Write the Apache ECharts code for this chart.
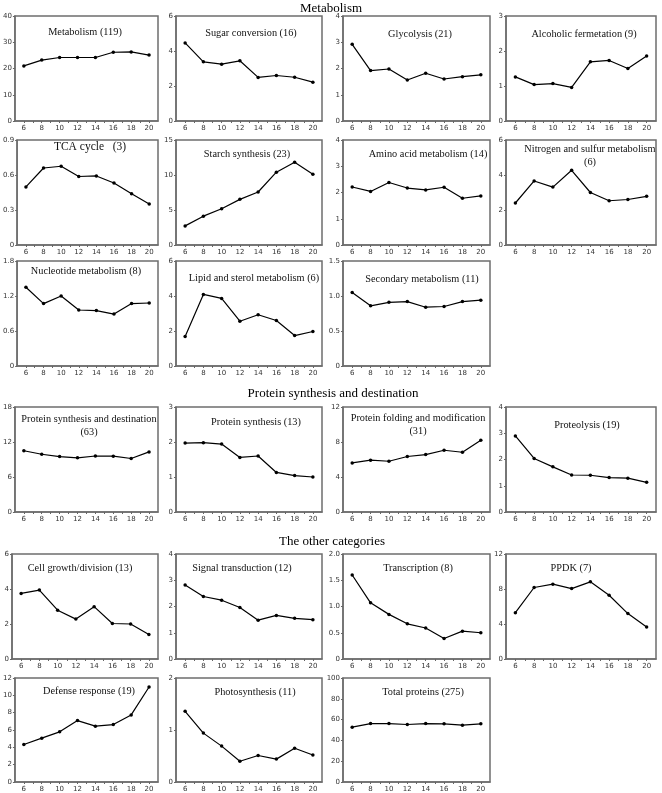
<!DOCTYPE html>
<html>
<head>
<meta charset="utf-8">
<script src="https://cdn.jsdelivr.net/npm/echarts@6/dist/echarts.min.js"></script>
<style>
html,body{margin:0;padding:0;background:#fff;}
#chart{width:662px;height:793px;}
</style>
</head>
<body>
<div id="chart"></div>
<script>
// ---- data ----
const stages = [6, 8, 10, 12, 14, 16, 18, 20];
const xTickLabels = ['6', '8', '10', '12', '14', '16', '18', '20'];

const metabolism = [21.0, 23.2, 24.2, 24.2, 24.2, 26.2, 26.3, 25.1];
const sugarConversion = [4.46, 3.38, 3.25, 3.44, 2.49, 2.60, 2.50, 2.22];
const glycolysis = [2.92, 1.92, 1.98, 1.56, 1.82, 1.60, 1.69, 1.76];
const alcoholicFermentation = [1.26, 1.04, 1.07, 0.96, 1.69, 1.73, 1.50, 1.86];
const tcaCycle = [0.498, 0.660, 0.675, 0.587, 0.592, 0.532, 0.440, 0.351];
const starchSynthesis = [2.73, 4.12, 5.17, 6.52, 7.57, 10.4, 11.83, 10.1];
const aminoAcid = [2.21, 2.04, 2.38, 2.17, 2.10, 2.20, 1.78, 1.87];
const nitrogenSulfur = [2.4, 3.66, 3.31, 4.27, 3.00, 2.53, 2.60, 2.78];
const nucleotide = [1.35, 1.07, 1.20, 0.96, 0.95, 0.89, 1.07, 1.08];
const lipidSterol = [1.68, 4.09, 3.86, 2.56, 2.93, 2.60, 1.74, 1.97];
const secondaryMetabolism = [1.05, 0.86, 0.91, 0.92, 0.84, 0.85, 0.92, 0.94];
const proteinSynthDest = [10.5, 9.9, 9.5, 9.28, 9.6, 9.57, 9.17, 10.3];
const proteinSynthesis = [1.97, 1.98, 1.94, 1.56, 1.60, 1.13, 1.04, 1.00];
const proteinFolding = [5.61, 5.92, 5.80, 6.34, 6.56, 7.06, 6.83, 8.20];
const proteolysis = [2.90, 2.04, 1.72, 1.41, 1.40, 1.31, 1.29, 1.13];
const cellGrowth = [3.75, 3.94, 2.79, 2.28, 2.99, 2.03, 2.00, 1.40];
const signalTransduction = [2.82, 2.38, 2.24, 1.96, 1.48, 1.66, 1.55, 1.50];
const transcription = [1.60, 1.07, 0.85, 0.67, 0.59, 0.39, 0.53, 0.50];
const ppdk = [5.30, 8.17, 8.55, 8.05, 8.82, 7.29, 5.19, 3.66];
const defenseResponse = [4.33, 5.06, 5.79, 7.09, 6.44, 6.63, 7.74, 10.96];
const photosynthesis = [1.36, 0.94, 0.69, 0.40, 0.51, 0.44, 0.65, 0.52];
const totalProteins = [52.7, 56.2, 56.2, 55.3, 56.2, 55.9, 54.6, 55.9];

const sectionTitles = ['Metabolism', 'Protein synthesis and destination', 'The other categories'];

const panelTitles = [
  'Metabolism (119)', 'Sugar conversion (16)', 'Glycolysis (21)', 'Alcoholic fermetation (9)',
  'TCA cycle   (3)', 'Starch synthesis (23)', 'Amino acid metabolism (14)', 'Nitrogen and sulfur metabolism\n(6)',
  'Nucleotide metabolism (8)', 'Lipid and sterol metabolism (6)', 'Secondary metabolism (11)',
  'Protein synthesis and destination\n(63)', 'Protein synthesis (13)', 'Protein folding and modification\n(31)', 'Proteolysis (19)',
  'Cell growth/division (13)', 'Signal transduction (12)', 'Transcription (8)', 'PPDK (7)',
  'Defense response (19)', 'Photosynthesis (11)', 'Total proteins (275)'
];
const panelSeries = [
  metabolism, sugarConversion, glycolysis, alcoholicFermentation,
  tcaCycle, starchSynthesis, aminoAcid, nitrogenSulfur,
  nucleotide, lipidSterol, secondaryMetabolism,
  proteinSynthDest, proteinSynthesis, proteinFolding, proteolysis,
  cellGrowth, signalTransduction, transcription, ppdk,
  defenseResponse, photosynthesis, totalProteins
];
const yMax =  [40, 6, 4, 3, 0.9, 15, 4, 6, 1.8, 6, 1.5, 18, 3, 12, 4, 6, 4, 2, 12, 12, 2, 100];
const yStep = [10, 2, 1, 1, 0.3, 5, 1, 2, 0.6, 2, 0.5, 6, 1, 4, 1, 2, 1, 0.5, 4, 2, 1, 20];
const yDecimals = [0, 0, 0, 0, 1, 0, 0, 0, 1, 0, 1, 0, 0, 0, 0, 0, 0, 1, 0, 0, 0, 0];

// ---- layout (positions only) ----
const colLeft = [12, 176, 343, 506];
const colWidth = [146, 146, 147, 150];
const rowTop = [16, 140, 261, 407, 554, 678];
const rowHeight = 105;
// panel -> [row, col, titleCenterX, titleCenterOffsetY, fontSize]
const panelPos = [
  [0,0,85,16,10.3],[0,1,251,17,10.3],[0,2,420,18,10.3],[0,3,584,18,10.3],
  [1,0,90,6,11.5],[1,1,247,14,10.3],[1,2,428,14,10.3],[1,3,590,9,10.3],
  [2,0,86,10,10.3],[2,1,254,17,10.3],[2,2,422,18,10.3],
  [3,0,89,12,10.3],[3,1,256,15,10.3],[3,2,418,11,10.3],[3,3,587,18,10.3],
  [4,0,80,14,10.3],[4,1,242,14,10.3],[4,2,418,14,10.3],[4,3,571,14,10.3],
  [5,0,89,13,10.3],[5,1,255,14,10.3],[5,2,423,14,10.3]
];
const sectionPos = [[331, 8], [333, 393], [332, 541]];

const grids = [], xAxes = [], yAxes = [], series = [], titles = [];
const axisColor = '#6e6e6e';
panelSeries.forEach((d, i) => {
  const [r, c, tx, ty, fs] = panelPos[i];
  grids.push({
    left: colLeft[c], top: rowTop[r], width: colWidth[c], height: rowHeight,
    show: true, borderColor: axisColor, borderWidth: 1.5, backgroundColor: '#fff'
  });
  xAxes.push({
    type: 'value', gridIndex: i, min: 5, max: 21, interval: 1,
    splitLine: { show: false },
    axisLine: { show: true, onZero: false, lineStyle: { color: axisColor, width: 1.5 } },
    axisTick: { show: true, length: 2, lineStyle: { color: '#666', width: 1 } },
    axisLabel: {
      fontFamily: 'DejaVu Sans', fontSize: 7, color: '#333', margin: 4,
      showMinLabel: false, showMaxLabel: false,
      formatter: v => { const k = stages.indexOf(v); return k >= 0 ? xTickLabels[k] : ''; }
    }
  });
  const dec = yDecimals[i];
  yAxes.push({
    type: 'value', gridIndex: i, min: 0, max: yMax[i], interval: yStep[i],
    splitLine: { show: false },
    axisLine: { show: true, lineStyle: { color: axisColor, width: 1.5 } },
    axisTick: { show: true, length: 2, lineStyle: { color: '#666', width: 1 } },
    axisLabel: {
      fontFamily: 'DejaVu Sans', fontSize: 7, color: '#333', margin: 3,
      formatter: v => (Math.abs(v) < 1e-9 ? '0' : v.toFixed(dec))
    }
  });
  series.push({
    type: 'line', xAxisIndex: i, yAxisIndex: i,
    data: stages.map((s, k) => [s, d[k]]),
    symbol: 'circle', symbolSize: 3.5, showSymbol: true,
    lineStyle: { color: '#000', width: 1.2 },
    itemStyle: { color: '#000' },
    animation: false, silent: true
  });
  titles.push({
    text: panelTitles[i], left: tx, top: rowTop[r] + ty - 6, textAlign: 'center',
    padding: 0,
    textStyle: { fontFamily: 'Liberation Serif', fontWeight: 'normal', fontSize: fs, color: '#111', lineHeight: 13 }
  });
});
sectionTitles.forEach((t, i) => {
  titles.push({
    text: t, left: sectionPos[i][0], top: sectionPos[i][1] - 6, textAlign: 'center',
    padding: 0,
    textStyle: { fontFamily: 'Liberation Serif', fontWeight: 'normal', fontSize: 13, color: '#000' }
  });
});

const chart = echarts.init(document.getElementById('chart'), null, { renderer: 'canvas' });
chart.setOption({
  backgroundColor: '#fff',
  animation: false,
  title: titles,
  grid: grids,
  xAxis: xAxes,
  yAxis: yAxes,
  series: series
});
</script>
</body>
</html>
